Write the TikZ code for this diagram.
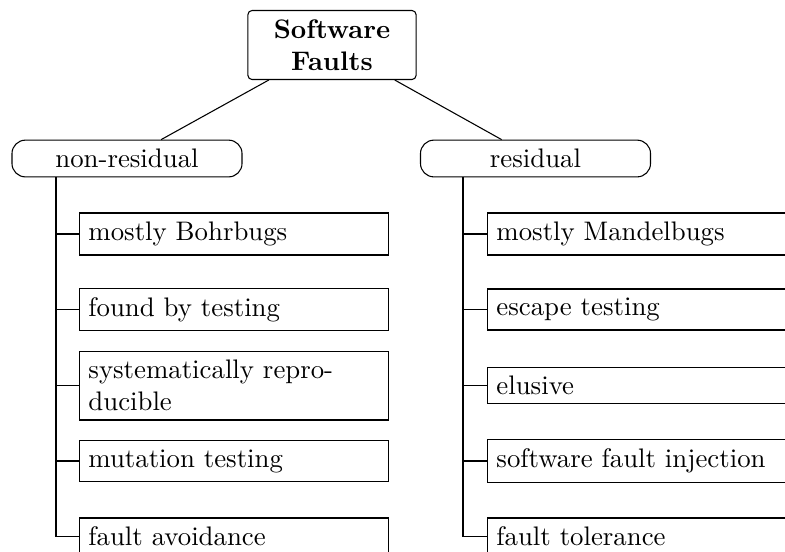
\documentclass[tikz,border=0pt]{standalone}
\begin{document}
\begin{tikzpicture}[x=0.373pt,y=-0.373pt,
  line width=0.4pt,
  topbox/.style={draw, rounded corners=1.5pt, align=center, font=\bfseries, minimum width=62.7pt, inner sep=3.33pt},
  catbox/.style={draw, rounded corners=5pt, minimum width=85.8pt, inner sep=3.33pt},
  leaf/.style={draw, anchor=west, text width=108.6pt, align=left, inner sep=3.33pt},
  link/.style={draw, line width=0.4pt}]
\useasboundingbox (0,0) rectangle (785,551);
\clip (0,0) rectangle (785,551);
\node[topbox] (sf) at (332,45) {Software\\Faults};
\node[catbox] (nonres) at (127,158.5) {non-residual};
\node[catbox] (res) at (535.5,158.5) {residual};
\draw[link] (sf) -- (nonres);
\draw[link] (sf) -- (res);
% left column
\node[leaf] (l1) at (79,234) {mostly Bohrbugs};
\node[leaf] (l2) at (79,309.5) {found by testing};
\node[leaf] (l3) at (79,385.5) {systematically repro-\\ducible};
\node[leaf] (l4) at (79,461) {mutation testing};
\node[leaf] (l5) at (79,536.5) {fault avoidance};
% right column
\node[leaf] (r1) at (487,234) {mostly Mandelbugs};
\node[leaf] (r2) at (487,309.5) {escape testing};
\node[leaf] (r3) at (487,385.5) {elusive};
\node[leaf] (r4) at (487,461) {software fault injection};
\node[leaf] (r5) at (487,536.5) {fault tolerance};
\coordinate (lt) at (56,0);
\coordinate (rt) at (463,0);
\foreach \n in {l1,l2,l3,l4,l5}{
  \draw[link] (lt |- nonres.south) |- (\n.west);
}
\foreach \n in {r1,r2,r3,r4,r5}{
  \draw[link] (rt |- res.south) |- (\n.west);
}
\end{tikzpicture}
\end{document}
